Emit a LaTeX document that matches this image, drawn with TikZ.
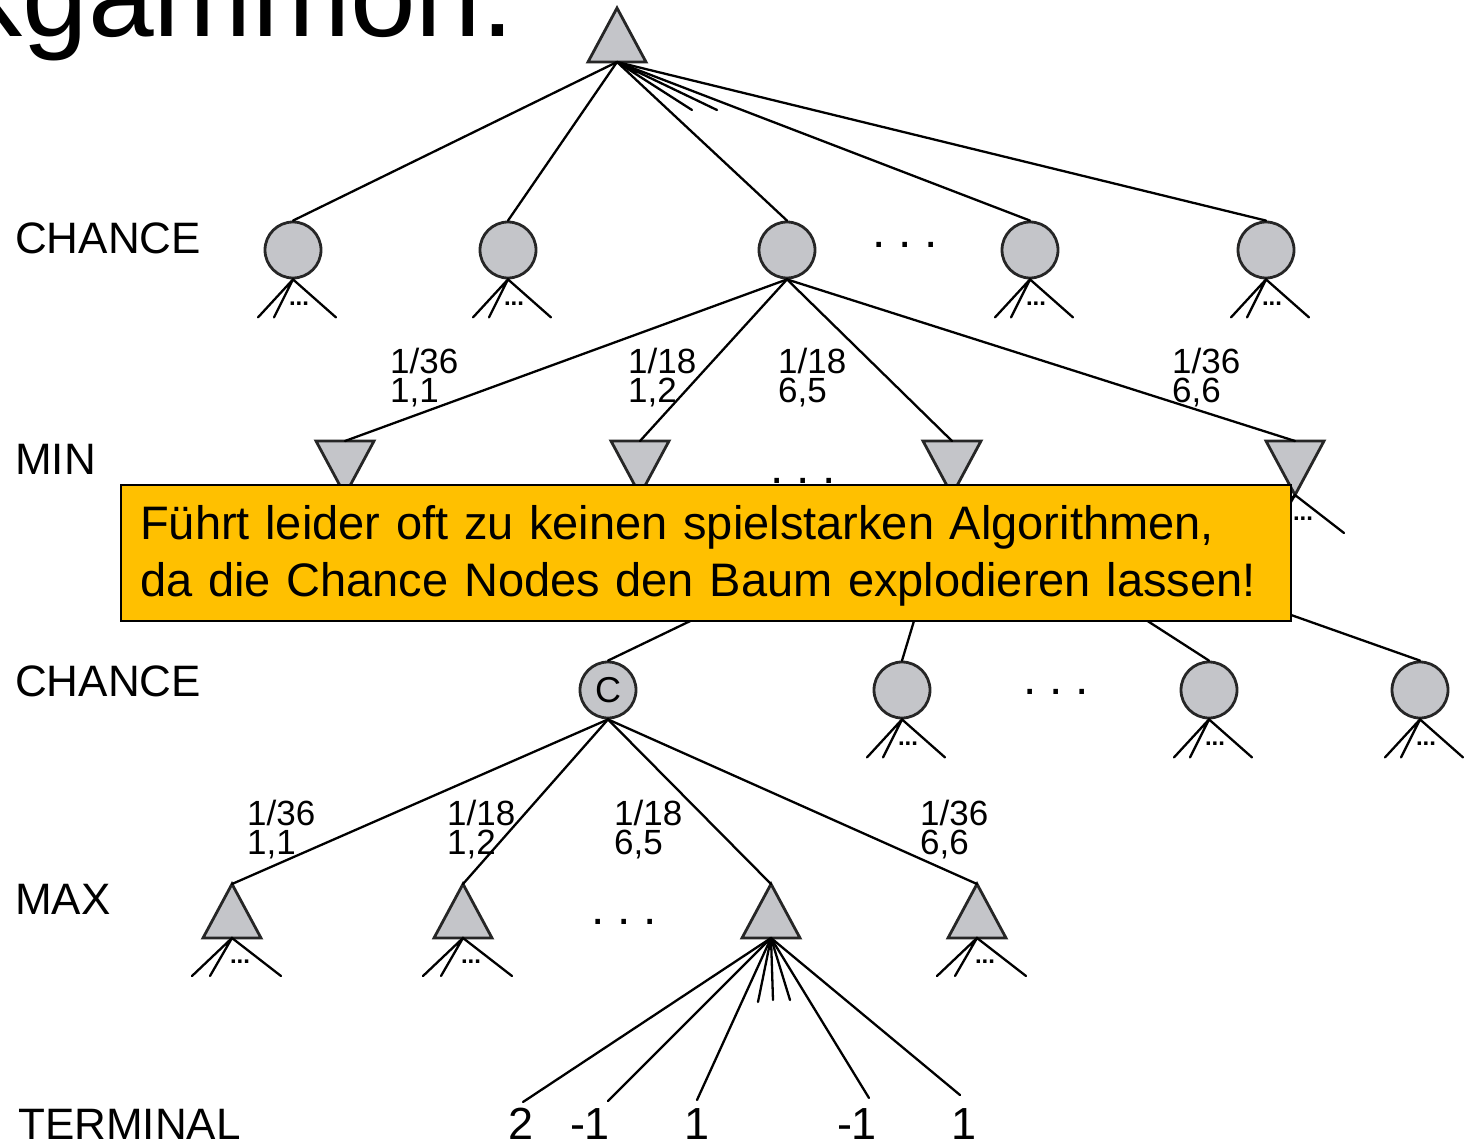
\documentclass[tikz,border=0pt]{standalone}
\usepackage{fontspec}
\setmainfont{Liberation Sans}
\definecolor{nodegray}{HTML}{C4C5C9}
\definecolor{notefill}{HTML}{FFC000}
\newcommand\rowdots{.\hspace{13pt}.\hspace{13pt}.}
\begin{document}
\begin{tikzpicture}[x=1pt,y=-1pt,
  edge/.style={line width=2.3pt, line cap=round},
  tri/.style={draw=black!85, line width=2.8pt, fill=nodegray, line join=miter},
  chance/.style={circle, draw=black!85, line width=2.8pt, fill=nodegray, minimum size=56pt, inner sep=0pt},
  lvl/.style={anchor=base west, inner sep=0pt, font=\fontsize{44}{50}\selectfont},
  prob/.style={anchor=north west, inner sep=0pt, align=left, font=\fontsize{35}{29}\selectfont},
  term/.style={anchor=base, inner sep=0pt, font=\fontsize{45}{50}\selectfont},
  gap/.style={inner sep=0pt, font=\fontsize{48}{48}\selectfont},
  smalldots/.style={inner sep=0pt, font=\fontsize{24}{24}\selectfont\bfseries},
  maxtri/.pic={
    \draw[tri] (-29,27) -- (0,-27) -- (29,27) -- cycle;
    \coordinate (-a) at (0,-27);
    \coordinate (-b) at (0,27);
  },
  mintri/.pic={
    \draw[tri] (-29,-27) -- (29,-27) -- (0,27) -- cycle;
    \coordinate (-a) at (0,-27);
    \coordinate (-b) at (0,27);
  },
  circfan/.pic={
    \coordinate (-o) at (0,0);
    \coordinate (-l1) at (-35,38);
    \coordinate (-l2) at (-19,38);
    \coordinate (-r) at (43,38);
    \draw[edge] (-l1) -- (-o) -- (-r) (-o) -- (-l2);
    \node[smalldots] (-d) at (6,24) {...};
  },
  trifan/.pic={
    \coordinate (-o) at (0,0);
    \coordinate (-l1) at (-40,38);
    \coordinate (-l2) at (-22,38);
    \coordinate (-r) at (49,38);
    \draw[edge] (-l1) -- (-o) -- (-r) (-o) -- (-l2);
    \node[smalldots] (-d) at (8,24) {...};
  }
]
\useasboundingbox (0,0) rectangle (1472,1145);
\clip (0,0) rectangle (1472,1145);

% heading, cut off at the left edge
\node[anchor=base west, inner sep=0pt, font=\fontsize{118}{118}\selectfont] (title) at (-240,37) {Backgammon:};

% level names
\node[lvl] (lv1) at (15,253) {CHANCE};
\node[lvl] (lv2) at (15,474) {MIN};
\node[lvl] (lv3) at (15,696) {CHANCE};
\node[lvl] (lv4) at (15,914) {MAX};
\node[lvl] (lv5) at (18,1139) {TERMINAL};

% root (MAX)
\pic (root) at (617,35) {maxtri};

% first chance level
\node[chance] (r1a) at (293,250) {};
\node[chance] (r1b) at (508,250) {};
\node[chance] (r1c) at (787,250) {};
\node[chance] (r1d) at (1030,250) {};
\node[chance] (r1e) at (1266,250) {};
\node[gap] (g1) at (905,245) {\rowdots};

\coordinate (rs1) at (692,110);
\coordinate (rs2) at (717,110);
\foreach \c in {r1a,r1b,r1c,r1d,r1e} \draw[edge] (root-b) -- (\c.north);
\draw[edge] (root-b) -- (rs1) (root-b) -- (rs2);

\foreach \c in {r1a,r1b,r1d,r1e} \pic (f\c) at (\c.south) {circfan};

% MIN level
\pic (mn1) at (345,468) {mintri};
\pic (mn2) at (640,468) {mintri};
\pic (mn3) at (952,468) {mintri};
\pic (mn4) at (1295,468) {mintri};
\node[gap] (g2) at (803,481) {\rowdots};
\foreach \m in {mn1,mn2,mn3,mn4} \draw[edge] (r1c.south) -- (\m-a);
\foreach \m in {mn1,mn2,mn4} \pic (f\m) at (\m-b) {trifan};

\node[prob] (p1) at (390,348) {1/36\\1,1};
\node[prob] (p2) at (628,348) {1/18\\1,2};
\node[prob] (p3) at (778,348) {1/18\\6,5};
\node[prob] (p4) at (1172,348) {1/36\\6,6};

% second chance level
\node[chance, font=\fontsize{36}{36}\selectfont] (c2a) at (608,690) {C};
\node[chance] (c2b) at (902,690) {};
\node[chance] (c2c) at (1209,690) {};
\node[chance] (c2d) at (1420,690) {};
\node[gap] (g3) at (1056,692) {\rowdots};
\foreach \c in {c2a,c2b,c2c,c2d} \draw[edge] (mn3-b) -- (\c.north);
\foreach \c in {c2b,c2c,c2d} \pic (f\c) at (\c.south) {circfan};

% MAX level
\pic (mx1) at (232,911) {maxtri};
\pic (mx2) at (463,911) {maxtri};
\pic (mx3) at (771,911) {maxtri};
\pic (mx4) at (977,911) {maxtri};
\node[gap] (g4) at (624,922) {\rowdots};
\foreach \m in {mx1,mx2,mx3,mx4} \draw[edge] (c2a.south) -- (\m-a);
\foreach \m in {mx1,mx2,mx4} \pic (f\m) at (\m-b) {trifan};

\node[prob] (q1) at (247,800) {1/36\\1,1};
\node[prob] (q2) at (447,800) {1/18\\1,2};
\node[prob] (q3) at (614,800) {1/18\\6,5};
\node[prob] (q4) at (920,800) {1/36\\6,6};

% terminal values
\node[term] (t1) at (521,1139) {2};
\node[term] (t2) at (590,1139) {-1};
\node[term] (t3) at (697,1139) {1};
\node[term] (t4) at (857,1139) {-1};
\node[term] (t5) at (964,1139) {1};
\coordinate (e1) at (523,1102);
\coordinate (e2) at (608,1101);
\coordinate (e3) at (697,1100);
\coordinate (e4) at (869,1098);
\coordinate (e5) at (960,1095);
\coordinate (s1) at (758,1002);
\coordinate (s2) at (773,1000);
\coordinate (s3) at (790,1000);
\foreach \e in {e1,e2,e3,e4,e5,s1,s2,s3} \draw[edge] (mx3-b) -- (\e);

% callout
\node[draw=black, line width=1.5pt, fill=notefill, anchor=north west,
      minimum width=1170pt, minimum height=136pt, inner sep=0pt]
  (note) at (120,484) {};
\node[anchor=west, inner sep=0pt, text width=1200pt, align=left,
      font=\fontsize{47}{57}\selectfont]
  (notetext) at (140,556)
  {Führt leider oft zu keinen spielstarken Algorithmen,\\da die Chance Nodes den Baum explodieren lassen!};
\end{tikzpicture}
\end{document}
